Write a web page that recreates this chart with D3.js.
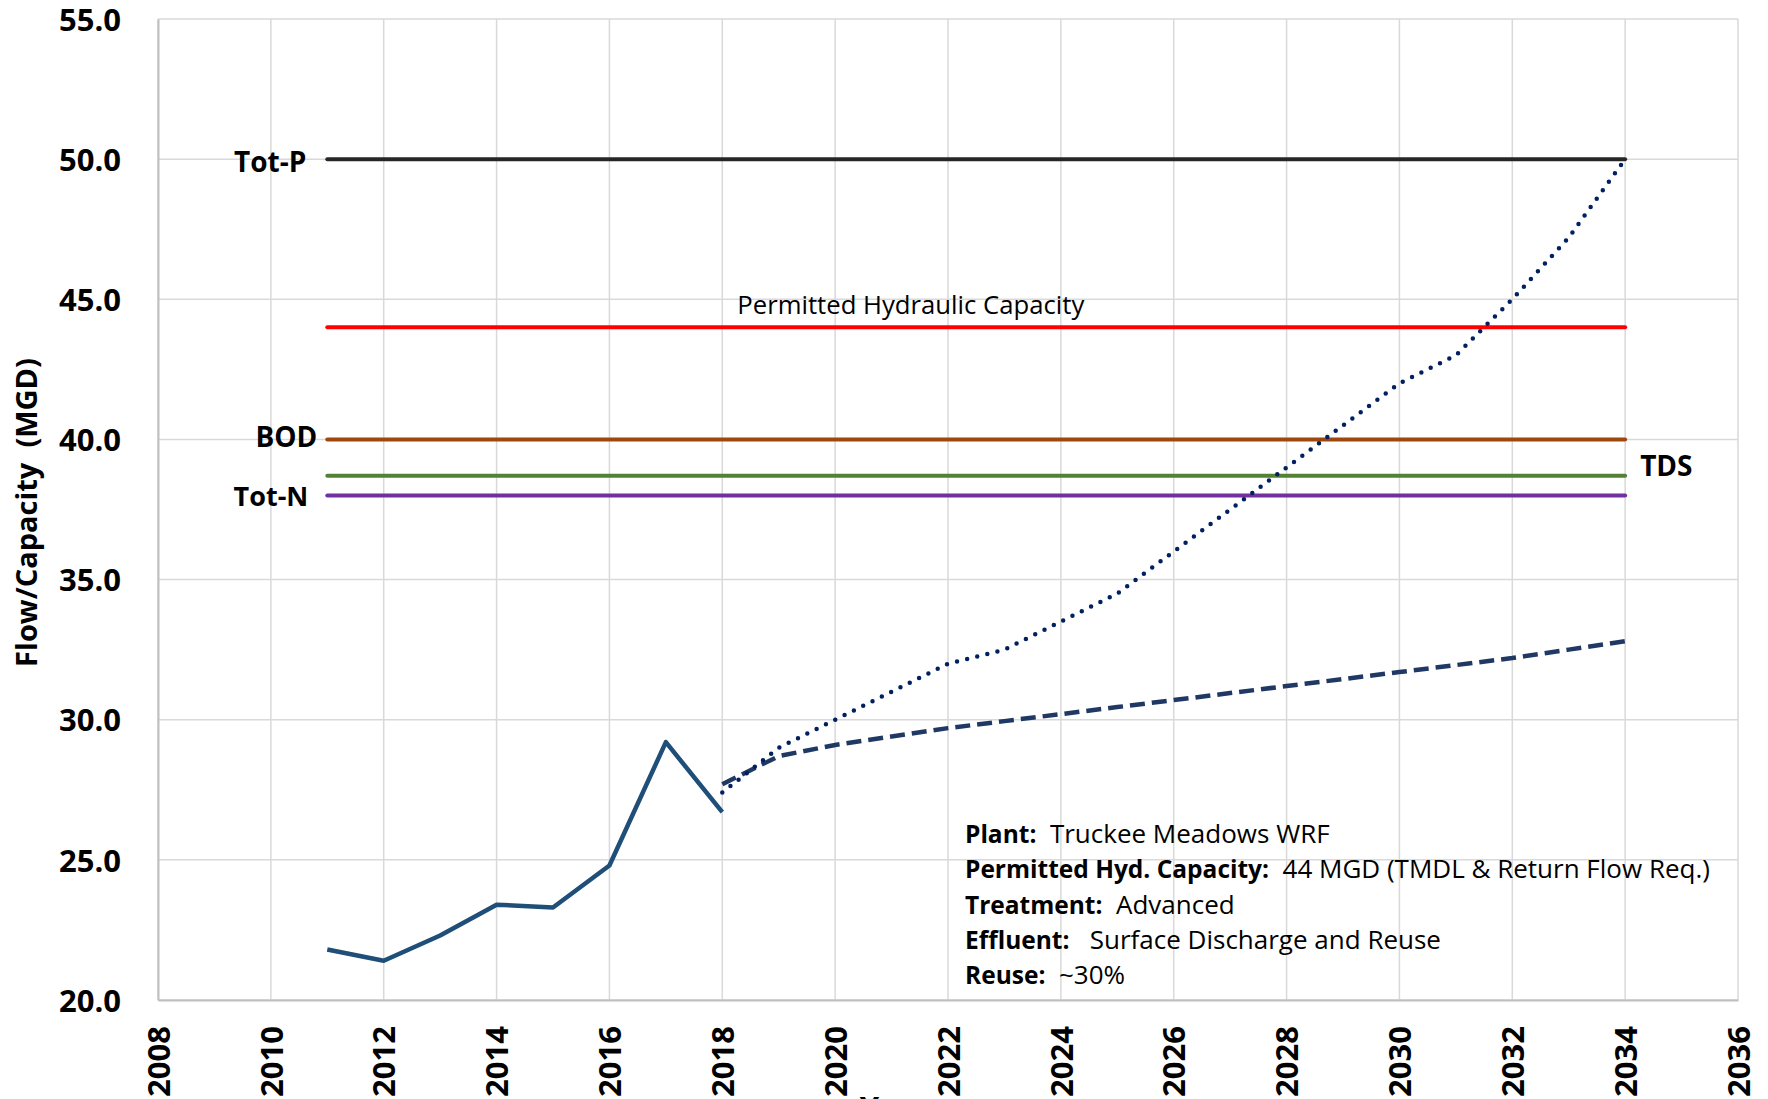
<!DOCTYPE html>
<html>
<head>
<meta charset="utf-8">
<script src="https://cdn.jsdelivr.net/npm/d3@7"></script>
<style>
  body { margin: 0; background: #fff; }
  svg { display: block; }
  text { white-space: pre; }
</style>
</head>
<body>
<svg id="chart" width="1768" height="1099"></svg>
<script>
// measured flows
var actualYears = [2011, 2012, 2013, 2014, 2015, 2016, 2017, 2018];
var actualFlow = [21.8, 21.4, 22.3, 23.4, 23.3, 24.8, 29.2, 26.7];

// projections (dashed = low, dotted = high)
var projYears = [2018, 2019, 2020, 2021, 2022, 2023, 2024, 2025, 2026, 2027, 2028, 2029, 2030, 2031, 2032, 2033, 2034];
var projLow = [27.7, 28.7, 29.1, 29.4, 29.7, 29.95, 30.2, 30.45, 30.7, 30.95, 31.2, 31.45, 31.7, 31.95, 32.2, 32.5, 32.8];
var projHigh = [27.4, 29.0, 30.0, 31.0, 32.0, 32.5, 33.5, 34.5, 36.0, 37.5, 39.0, 40.5, 42.0, 43.0, 45.0, 47.2, 50.0];

// capacity limits
var limitNames = ["Tot-P", "Permitted Hydraulic Capacity", "BOD", "TDS", "Tot-N"];
var limitValues = [50, 44, 40, 38.7, 38];
var limitColors = ["#262626", "#ff0000", "#9e480e", "#548235", "#7030a0"];
var limitSpan = [2011, 2034];

var xTicks = [2008, 2010, 2012, 2014, 2016, 2018, 2020, 2022, 2024, 2026, 2028, 2030, 2032, 2034, 2036];
var yTicks = [20, 25, 30, 35, 40, 45, 50, 55];

var infoKeys = ["Plant:", "Permitted Hyd. Capacity:", "Treatment:", "Effluent:", "Reuse:"];
var infoValues = ["  Truckee Meadows WRF", "  44 MGD (TMDL & Return Flow Req.)", "  Advanced", "   Surface Discharge and Reuse", "  ~30%"];

var svg = d3.select("#chart");
var margin = {left: 158, right: 30, top: 19, bottom: 99};
var width = 1768, height = 1099;

var x = d3.scaleLinear()
    .domain([2008, 2036])
    .range([margin.left, width - margin.right]);

var y = d3.scaleLinear()
    .domain([20, 55])
    .range([height - margin.bottom, margin.top]);

svg.append("rect")
    .attr("width", width)
    .attr("height", height)
    .attr("fill", "#fff");

// gridlines
var grid = svg.append("g");
grid.selectAll(".vgrid")
    .data(xTicks)
  .enter().append("line")
    .attr("x1", function(d) { return x(d); })
    .attr("x2", function(d) { return x(d); })
    .attr("y1", y(20))
    .attr("y2", y(55))
    .attr("stroke", "#d9d9d9")
    .attr("stroke-width", 1.5);
grid.selectAll(".hgrid")
    .data(yTicks)
  .enter().append("line")
    .attr("x1", x(2008))
    .attr("x2", x(2036))
    .attr("y1", function(d) { return y(d); })
    .attr("y2", function(d) { return y(d); })
    .attr("stroke", "#d9d9d9")
    .attr("stroke-width", 1.5);

// axes
var xAxis = svg.append("g")
    .attr("transform", "translate(0," + y(20) + ")")
    .call(d3.axisBottom(x).tickValues(xTicks).tickFormat(d3.format("d")).tickSize(0));
xAxis.select(".domain").attr("stroke", "#bfbfbf").attr("stroke-width", 2);
xAxis.selectAll("text")
    .attr("transform", "rotate(-90)")
    .attr("x", -26)
    .attr("y", 0)
    .attr("dy", "0.36em")
    .attr("text-anchor", "end")
    .attr("font-family", "'Open Sans', sans-serif")
    .attr("font-weight", 700)
    .attr("font-size", 31)
    .attr("fill", "#000");

var yAxis = svg.append("g")
    .attr("transform", "translate(" + x(2008) + ",0)")
    .call(d3.axisLeft(y).tickValues(yTicks).tickFormat(d3.format(".1f")).tickSize(0));
yAxis.select(".domain").attr("stroke", "#bfbfbf").attr("stroke-width", 2);
yAxis.selectAll("text")
    .attr("x", -37)
    .attr("dy", "0.36em")
    .attr("font-family", "'Open Sans', sans-serif")
    .attr("font-weight", 700)
    .attr("font-size", 31)
    .attr("fill", "#000");

// axis titles
svg.append("text")
    .attr("transform", "translate(37," + ((y(20) + y(55)) / 2 + 3) + ") rotate(-90)")
    .attr("text-anchor", "middle")
    .attr("font-family", "'Open Sans', sans-serif")
    .attr("font-weight", 700)
    .attr("font-size", 29)
    .text("Flow/Capacity  (MGD)");

svg.append("text")
    .attr("x", 895)
    .attr("y", 1119)
    .attr("text-anchor", "middle")
    .attr("font-family", "'Open Sans', sans-serif")
    .attr("font-weight", 700)
    .attr("font-size", 31)
    .text("Year");

// limit lines
svg.append("g").selectAll("line")
    .data(limitValues)
  .enter().append("line")
    .attr("x1", x(limitSpan[0]))
    .attr("x2", x(limitSpan[1]))
    .attr("y1", function(d) { return y(d); })
    .attr("y2", function(d) { return y(d); })
    .attr("stroke", function(d, i) { return limitColors[i]; })
    .attr("stroke-width", 4)
    .attr("stroke-linecap", "round");

// label nudges (layout only)
var labelLayout = {
  "Tot-P": {side: "left", dx: -21, dy: 13, size: 28},
  "Permitted Hydraulic Capacity": {side: "inner", dx: 410, dy: -13, size: 25.7},
  "BOD": {side: "left", dx: -10, dy: 8, size: 28},
  "TDS": {side: "right", dx: 15, dy: 0, size: 28},
  "Tot-N": {side: "left", dx: -19, dy: 11, size: 27}
};

svg.append("g").selectAll("text")
    .data(limitNames)
  .enter().append("text")
    .attr("x", function(d) {
      var l = labelLayout[d];
      if (l.side === "right") return x(limitSpan[1]) + l.dx;
      return x(limitSpan[0]) + l.dx;
    })
    .attr("y", function(d, i) { return y(limitValues[i]) + labelLayout[d].dy; })
    .attr("text-anchor", function(d) { return labelLayout[d].side === "left" ? "end" : "start"; })
    .attr("font-family", "'Open Sans', sans-serif")
    .attr("font-weight", function(d) { return labelLayout[d].side === "inner" ? 400 : 700; })
    .attr("font-size", function(d) { return labelLayout[d].size; })
    .attr("fill", "#000")
    .text(function(d) { return d; });

// flow lines
var line = d3.line()
    .x(function(d) { return x(d[0]); })
    .y(function(d) { return y(d[1]); });

svg.append("path")
    .datum(d3.zip(projYears, projLow))
    .attr("d", line)
    .attr("fill", "none")
    .attr("stroke", "#203864")
    .attr("stroke-width", 4.5)
    .attr("stroke-dasharray", "15 7");

svg.append("path")
    .datum(d3.zip(projYears, projHigh))
    .attr("d", line)
    .attr("fill", "none")
    .attr("stroke", "#002060")
    .attr("stroke-width", 4.5)
    .attr("stroke-linecap", "round")
    .attr("stroke-dasharray", "0 10.4");

svg.append("path")
    .datum(d3.zip(actualYears, actualFlow))
    .attr("d", line)
    .attr("fill", "none")
    .attr("stroke", "#1f4e79")
    .attr("stroke-width", 4.5)
    .attr("stroke-linejoin", "round");

// plant info box
var info = svg.append("g")
    .attr("transform", "translate(965,843)");
infoKeys.forEach(function(k, i) {
  var t = info.append("text")
      .attr("y", i * 35.3)
      .attr("font-family", "'Open Sans', sans-serif")
      .attr("fill", "#000");
  t.append("tspan").attr("font-weight", 700).attr("font-size", 24.5).text(k);
  t.append("tspan").attr("font-weight", 400).attr("font-size", 26).text(infoValues[i]);
});
</script>
</body>
</html>
